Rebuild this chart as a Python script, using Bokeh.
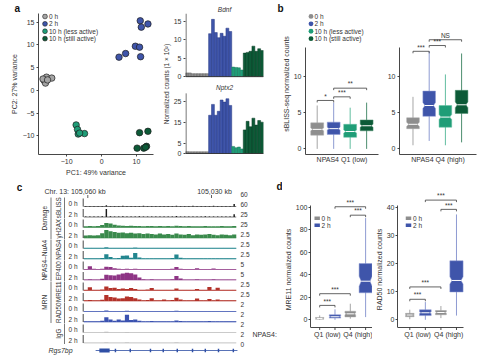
import math
from bokeh.plotting import figure
from bokeh.layouts import row, column
from bokeh.models import Range1d, FixedTicker, Label, Title
from bokeh.core.properties import value
from bokeh.embed import file_html
from bokeh.resources import INLINE

FONT = "Liberation Sans"
INK = "#333333"

# ======================= DATA =======================
group_labels = ["0 h", "2 h", "10 h (less active)", "10 h (still active)"]

# panel a: PCA
pca_0h_x = [-16.5, -15.8, -16.1, -14.3, -16.8, -15.5]
pca_0h_y = [2.2, 2.9, 1.6, 2.7, 2.5, 2.3]
pca_2h_x = [11.1, 13.3, 11.4, 9.7, 10.9, 11.2, 6.9, 5.0]
pca_2h_y = [15.3, 14.6, 13.9, 9.7, 9.5, 7.4, 8.1, 7.3]
pca_10l_x = [-7.3, -6.9, -6.7, -4.9, -6.3]
pca_10l_y = [-7.6, -8.6, -9.6, -9.5, -9.4]
pca_10s_x = [10.9, 13.3, 10.2, 12.1, 12.9, 12.6]
pca_10s_y = [-9.3, -9.0, -12.7, -12.7, -12.3, -12.5]
pca_x_ticks = [-10, 0, 10]
pca_y_ticks = [-10, -5, 0, 5, 10, 15]

# panel a: gene expression bars (normalized counts, x 10^2)
bdnf_0h = [1.0, 1.0, 0.8, 0.8, 0.8, 0.8, 0.8, 0.8]
bdnf_2h = [11.7, 15.6, 12.0, 10.6, 11.8, 11.0, 13.2, 12.3]
bdnf_10l = [2.6, 2.5, 2.4, 1.8]
bdnf_10s = [6.4, 6.6, 6.9, 8.3, 6.9, 7.6, 7.1]
nptx2_0h = [0.9, 0.8, 0.8, 0.8, 0.8, 0.8, 0.8, 0.8]
nptx2_2h = [18.3, 23.5, 18.3, 20.2, 25.6, 24.6, 26.2, 23.0]
nptx2_10l = [3.4, 2.8, 3.1, 2.2]
nptx2_10s = [11.3, 15.4, 12.8, 16.9, 13.6, 15.8, 15.0]
bdnf_ticks = [0, 5, 10, 15]
nptx2_ticks = [0, 5, 15, 25]

# panel b: sBLISS box stats (0h, 2h, 10h less, 10h still)
box_pos = [1, 2, 3, 4]
b1_lo = [0.0, 0.0, 0.0, 0.0]
b1_q1 = [1.9, 2.0, 1.6, 2.5]
b1_med = [2.7, 2.8, 2.4, 3.2]
b1_q3 = [3.6, 3.7, 3.4, 4.0]
b1_hi = [6.0, 6.4, 5.7, 6.4]
b1_notch = [0.2, 0.2, 0.2, 0.2]
b2_lo = [0.5, 1.1, 0.5, 0.9]
b2_q1 = [2.8, 4.5, 3.0, 4.9]
b2_med = [3.4, 6.0, 4.4, 6.1]
b2_q3 = [4.3, 8.0, 6.0, 8.1]
b2_hi = [7.2, 13.5, 10.3, 13.2]
b2_notch = [0.3, 0.4, 0.35, 0.4]
b_ticks = [0, 5, 10]
b1_brk_from = [1, 2, 2]
b1_brk_to = [2, 3, 4]
b1_brk_y = [6.7, 7.2, 8.4]
b1_brk_txt = ["*", "***", "**"]
b2_brk_from = [1, 2, 2]
b2_brk_to = [2, 3, 4]
b2_brk_y = [13.5, 14.3, 15.1]
b2_brk_txt = ["***", "***", "NS"]

# panel d: MRE11 / RAD50 box stats (0h Q1, 2h Q1, 0h Q4, 2h Q4)
d_group = [0, 1, 0, 1]
d_box_w = [0.55, 0.75, 0.7, 0.85]
d1_lo = [0.0, 0.0, 1.0, 2.4]
d1_q1 = [0.6, 1.5, 2.6, 24.0]
d1_med = [1.2, 2.7, 5.3, 34.3]
d1_q3 = [2.1, 4.5, 7.6, 50.0]
d1_hi = [3.9, 9.3, 14.3, 90.4]
d1_notch = [0.3, 0.5, 0.8, 4.5]
d2_lo = [0.2, 0.0, 0.6, 1.5]
d2_q1 = [1.1, 1.5, 1.8, 9.9]
d2_med = [1.7, 2.5, 2.6, 14.0]
d2_q3 = [2.3, 3.6, 3.3, 21.0]
d2_hi = [3.6, 6.3, 4.9, 37.5]
d2_notch = [0.15, 0.3, 0.25, 1.3]
d1_ticks = [0, 20, 40, 60, 80, 100]
d2_ticks = [0, 10, 20, 30, 40]
d1_brk_from = [1, 1, 3, 2]
d1_brk_to = [2, 3, 4, 4]
d1_brk_y = [12.8, 23.2, 93.0, 100.5]
d2_brk_from = [1, 1, 3, 2]
d2_brk_to = [2, 3, 4, 4]
d2_brk_y = [7.3, 11.7, 39.3, 42.6]
d_brk_txt = ["***", "***", "***", "***"]
d_legend = ["0 h", "2 h"]
d_quartile_pos = [1.5, 3.5]
d_quartiles = ["Q1 (low)", "Q4 (high)"]

# panel c: genome tracks, 1-kb bins starting at 105,061 kb (going right = decreasing)
bin_start_kb = 105061.0
bin_kb = 1.0
sbliss_0h = [0.05, 0.05, 0.05, 0.05, 0.05, 0.15, 0.05, 0.05, 0.05, 0.10,
             0.05, 0.05, 0.05, 0.05, 0.10, 0.05, 0.05, 0.05, 0.05, 0.05,
             0.05, 0.05, 0.10, 0.05, 0.05, 0.05, 0.10, 0.05, 0.05, 0.05,
             0.05, 0.10, 0.05, 0.05, 0.05, 0.05, 0.30]
sbliss_2h = [0.05, 0.05, 0.05, 0.05, 0.08, 1.00, 0.08, 0.05, 0.05, 0.10,
             0.05, 0.05, 0.05, 0.10, 0.05, 0.05, 0.05, 0.05, 0.05, 0.05,
             0.05, 0.05, 0.12, 0.05, 0.05, 0.05, 0.05, 0.05, 0.05, 0.10,
             0.05, 0.05, 0.05, 0.05, 0.05, 0.05, 0.35]
gh2ax_0h = [0.15, 0.18, 0.15, 0.20, 0.30, 0.55, 0.50, 0.35, 0.25, 0.22,
            0.20, 0.22, 0.18, 0.20, 0.15, 0.18, 0.20, 0.15, 0.18, 0.15,
            0.18, 0.15, 0.22, 0.18, 0.15, 0.18, 0.15, 0.17, 0.15, 0.18,
            0.15, 0.17, 0.15, 0.18, 0.15, 0.15, 0.20]
gh2ax_2h = [0.30, 0.35, 0.30, 0.35, 0.60, 1.00, 0.85, 0.75, 0.65, 0.70,
            0.60, 0.65, 0.55, 0.60, 0.50, 0.55, 0.50, 0.45, 0.55, 0.45,
            0.50, 0.40, 0.55, 0.45, 0.40, 0.50, 0.35, 0.45, 0.40, 0.45,
            0.50, 0.40, 0.35, 0.45, 0.40, 0.35, 0.45]
npas4_0h = [0.08, 0.08, 0.08, 0.08, 0.08, 0.15, 0.08, 0.08, 0.08, 0.08,
            0.08, 0.08, 0.12, 0.08, 0.08, 0.08, 0.08, 0.08, 0.08, 0.08,
            0.08, 0.08, 0.10, 0.08, 0.08, 0.08, 0.08, 0.08, 0.08, 0.08,
            0.08, 0.08, 0.08, 0.08, 0.08, 0.08, 0.08]
npas4_2h = [0.08, 0.08, 0.08, 0.08, 0.12, 0.60, 0.25, 0.10, 0.12, 0.40,
            0.45, 0.15, 0.75, 0.20, 0.10, 0.08, 0.10, 0.08, 0.08, 0.08,
            0.08, 0.12, 0.55, 0.15, 0.08, 0.08, 0.08, 0.10, 0.08, 0.08,
            0.10, 0.08, 0.08, 0.08, 0.08, 0.08, 0.08]
ep400_0h = [0.06, 0.40, 0.10, 0.06, 0.08, 0.35, 0.30, 0.15, 0.08, 0.06,
            0.08, 0.06, 0.10, 0.06, 0.06, 0.06, 0.06, 0.06, 0.06, 0.06,
            0.06, 0.08, 0.30, 0.08, 0.06, 0.06, 0.06, 0.15, 0.06, 0.06,
            0.06, 0.12, 0.06, 0.06, 0.06, 0.06, 0.06]
ep400_2h = [0.06, 0.08, 0.06, 0.06, 0.15, 0.65, 0.60, 0.55, 0.70, 0.80,
            0.90, 0.85, 0.70, 0.30, 0.10, 0.06, 0.08, 0.06, 0.06, 0.06,
            0.06, 0.10, 0.50, 0.20, 0.06, 0.06, 0.06, 0.08, 0.06, 0.06,
            0.06, 0.08, 0.06, 0.06, 0.06, 0.06, 0.06]
mre11_0h = [0.08, 0.40, 0.10, 0.08, 0.12, 0.50, 0.30, 0.35, 0.20, 0.25,
            0.20, 0.30, 0.20, 0.10, 0.08, 0.12, 0.30, 0.08, 0.10, 0.08,
            0.08, 0.10, 0.25, 0.08, 0.08, 0.10, 0.08, 0.20, 0.08, 0.08,
            0.45, 0.10, 0.35, 0.08, 0.08, 0.10, 0.08]
mre11_2h = [0.08, 0.12, 0.08, 0.08, 0.15, 0.75, 0.50, 0.45, 0.30, 0.35,
            0.55, 0.50, 0.35, 0.20, 0.10, 0.12, 0.35, 0.08, 0.10, 0.20,
            0.08, 0.12, 0.40, 0.20, 0.08, 0.10, 0.08, 0.30, 0.08, 0.10,
            0.25, 0.08, 0.20, 0.08, 0.08, 0.10, 0.08]
rad50_0h = [0.07, 0.07, 0.07, 0.07, 0.07, 0.12, 0.07, 0.07, 0.07, 0.07,
            0.09, 0.07, 0.07, 0.07, 0.07, 0.07, 0.07, 0.07, 0.07, 0.07,
            0.07, 0.07, 0.08, 0.07, 0.07, 0.07, 0.07, 0.07, 0.07, 0.07,
            0.07, 0.07, 0.07, 0.07, 0.07, 0.07, 0.07]
rad50_2h = [0.10, 0.10, 0.10, 0.10, 0.15, 0.60, 0.30, 0.15, 0.30, 0.20,
            0.90, 0.25, 0.30, 0.15, 0.10, 0.10, 0.12, 0.10, 0.10, 0.10,
            0.10, 0.10, 0.20, 0.12, 0.10, 0.10, 0.10, 0.10, 0.10, 0.10,
            0.12, 0.10, 0.10, 0.10, 0.10, 0.10, 0.10]
igg_0h = [0.03, 0.03, 0.03, 0.03, 0.03, 0.08, 0.03, 0.03, 0.03, 0.03,
          0.06, 0.03, 0.03, 0.03, 0.03, 0.03, 0.03, 0.03, 0.03, 0.03,
          0.03, 0.03, 0.04, 0.03, 0.03, 0.03, 0.03, 0.03, 0.03, 0.03,
          0.03, 0.03, 0.03, 0.03, 0.03, 0.03, 0.03]
igg_2h = [0.03, 0.03, 0.03, 0.03, 0.03, 0.07, 0.03, 0.03, 0.03, 0.03,
          0.06, 0.03, 0.03, 0.03, 0.03, 0.03, 0.03, 0.03, 0.03, 0.03,
          0.03, 0.03, 0.05, 0.03, 0.03, 0.03, 0.03, 0.03, 0.03, 0.03,
          0.03, 0.03, 0.03, 0.03, 0.03, 0.03, 0.03]
track_time = ["0 h", "2 h"] * 7
track_scale_labels = ["60", "60", "25", "25", "2.5", "2.5", "2.5", "5", "5",
                      "2.5", "2.5", "2", "2", "2", "2", "0"]
antibody_labels = ["sBLISS", "γH2AX", "NPAS4", "EP400", "MRE11", "RAD50", "IgG"]
group_names = ["Damage", "NPAS4–NuA4", "MRN"]
group_rows = [(0, 3), (4, 7), (8, 11)]
coord_ticks_kb = [105060, 105030]
gene_name = "Rgs7bp"
gene_span_kb = (105058.1, 105023.7)
gene_utr_kb = (105057.2, 105054.7)
gene_exons_kb = [105053.3, 105049.7, 105044.8, 105041.7, 105038.3,
                 105034.6, 105031.5, 105028.3, 105024.7]

# ======================= STYLE =======================
GRP_FILL = ["#8e8e8e", "#3f55aa", "#1f9d77", "#0c5a37"]
GRP_EDGE = ["#5e5e5e", "#243782", "#14765a", "#063a22"]
GRP_WHISK = ["#a6a6a6", "#8e9bd2", "#62bea0", "#4d8e6f"]
PCA_FILL = ["#a4a4a4", "#3f55aa", "#1f9d77", "#0c5a37"]
TRACK_COL = ["#1a1a1a", "#1a1a1a", "#3a8a4c", "#3a8a4c", "#23868f", "#23868f",
             "#8e3585", "#8e3585", "#b3322a", "#b3322a", "#3b52b0", "#3b52b0",
             "#b4b4b4", "#b4b4b4"]
TRACK_BAR_W = [0.35, 0.35] + [1.02] * 12
GENE_COL = "#2f4fa5"


class Panel:
    def __init__(self, ox, oy, w, h, frame, xr, yr, xaxis=True, yaxis=True):
        self.fx0, self.fy0, self.fx1, self.fy1 = frame
        self.x0, self.x1 = xr
        self.y0, self.y1 = yr
        kw = dict(width=w, height=h, x_range=Range1d(*xr), y_range=Range1d(*yr),
                  output_backend="svg", toolbar_location=None,
                  min_border_left=int(round(self.fx0 - ox)),
                  min_border_right=int(round(ox + w - self.fx1)),
                  min_border_top=int(round(self.fy0 - oy)),
                  min_border_bottom=int(round(oy + h - self.fy1)),
                  background_fill_color="white", border_fill_color="white",
                  outline_line_color=None)
        if not xaxis:
            kw["x_axis_location"] = None
        if not yaxis:
            kw["y_axis_location"] = None
        self.p = figure(**kw)
        for g in self.p.grid:
            g.visible = False
        for ax in self.p.axis:
            ax.axis_line_color = INK
            ax.axis_line_width = 0.9
            ax.major_tick_line_color = INK
            ax.major_tick_line_width = 0.9
            ax.major_tick_out = 2
            ax.major_tick_in = 0
            ax.minor_tick_line_color = None
            ax.major_label_text_font = FONT
            ax.major_label_text_font_size = "7px"
            ax.major_label_text_color = INK
            ax.major_label_standoff = 2
            ax.axis_label_text_font = FONT
            ax.axis_label_text_font_size = "7px"
            ax.axis_label_text_font_style = "normal"
            ax.axis_label_text_color = INK
            ax.axis_label_standoff = 2

    def dx(self, px):
        return self.x0 + (px - self.fx0) / (self.fx1 - self.fx0) * (self.x1 - self.x0)

    def dy(self, py):
        return self.y1 + (py - self.fy0) / (self.fy1 - self.fy0) * (self.y0 - self.y1)

    def ux(self, npx):
        return npx / (self.fx1 - self.fx0) * abs(self.x1 - self.x0)

    def uy(self, npx):
        return npx / (self.fy1 - self.fy0) * abs(self.y1 - self.y0)

    def top_title(self, text, offset, align="left", size="10px", style="bold",
                  color="#111111", standoff=0):
        t = self.p.title
        t.text = text
        t.align = align
        t.offset = offset
        t.standoff = standoff
        t.text_font = FONT
        t.text_font_size = size
        t.text_font_style = style
        t.text_color = color

    def side_title(self, text, offset, size="7px"):
        self.p.add_layout(Title(text=text, align="center", offset=offset, standoff=1,
                                text_font=FONT, text_font_size=size,
                                text_font_style="normal", text_color=INK), "left")


def lab(P, px, py, text, size="7px", align="left", baseline="middle", angle=0.0,
        style="normal", color=INK):
    P.p.add_layout(Label(x=P.dx(px), y=P.dy(py), text=text, text_font=FONT,
                         text_font_size=size, text_align=align, text_baseline=baseline,
                         angle=angle, text_font_style=style, text_color=color))


def draw_boxes(P, pos, lo, q1, med, q3, hi, notch, widths, fills, whisk, edges):
    p = P.p
    p.segment(x0=pos, y0=lo, x1=pos, y1=hi, line_color=whisk, line_width=1)
    xs_l, ys_l, m0, m1 = [], [], [], []
    for i, x in enumerate(pos):
        w = widths[i]
        l, r = x - w / 2, x + w / 2
        ind = w * 0.16
        lo_n = max(q1[i], med[i] - notch[i])
        hi_n = min(q3[i], med[i] + notch[i])
        xs_l.append([l, l, l + ind, l, l, r, r, r - ind, r, r])
        ys_l.append([q1[i], lo_n, med[i], hi_n, q3[i], q3[i], hi_n, med[i], lo_n, q1[i]])
        m0.append(l + ind)
        m1.append(r - ind)
    p.patches(xs_l, ys_l, fill_color=fills, line_color=edges, line_width=0.5)
    p.segment(x0=m0, y0=med, x1=m1, y1=med, line_color="white", line_width=1)


def draw_brackets(P, x1s, x2s, ys, texts, size="6px"):
    t = P.uy(2.0)
    xs = [[a, a, b, b] for a, b in zip(x1s, x2s)]
    yy = [[y - t, y, y, y - t] for y in ys]
    P.p.multi_line(xs, yy, line_color="#3c3c3c", line_width=0.8)
    P.p.text(x=[(a + b) / 2 for a, b in zip(x1s, x2s)], y=[y + P.uy(0.8) for y in ys],
             text=texts, text_font=value(FONT), text_font_size=value(size),
             text_align="center", text_baseline="bottom", text_color=INK)


# Top row: every frame spans y 12..155 (Bokeh aligns frames within a row)
TOP_F0, TOP_F1 = 12, 155

# ======================= PANEL a: PCA =======================
A = Panel(0, 0, 160, 178, (38, TOP_F0, 153, TOP_F1), (-18.1, 14.9), (-14.1, 16.9))
pa = A.p
pa.xaxis.ticker = FixedTicker(ticks=pca_x_ticks)
pa.yaxis.ticker = FixedTicker(ticks=pca_y_ticks)
pa.xaxis.major_label_overrides = {-10: "−10"}
pa.yaxis.major_label_overrides = {-10: "−10", -5: "−5"}
pa.xaxis.axis_label = "PC1: 49% variance"
pa.yaxis.axis_label = "PC2: 27% variance"
A.top_title("a", -24)
for (xs, ys), col in zip([(pca_0h_x, pca_0h_y), (pca_2h_x, pca_2h_y),
                          (pca_10l_x, pca_10l_y), (pca_10s_x, pca_10s_y)], PCA_FILL):
    pa.scatter(xs, ys, size=6.5, fill_color=col, line_color="#1c1c1c", line_width=0.7)
leg_y = [15, 22.5, 30, 37.5]
for i in range(4):
    pa.scatter([A.dx(44.5)], [A.dy(leg_y[i])], size=4.8, fill_color=PCA_FILL[i],
               line_color="#1c1c1c", line_width=0.6)
    lab(A, 48.5, leg_y[i], group_labels[i], size="6.5px")

# ======================= PANEL a: bars (one frame, two sub-charts) =======================
BD_ZERO, BD_PPU = 76.0, 64.0 / 17.2     # Bdnf baseline (px) / px per unit
NP_ZERO, NP_PPU = 154.0, 2.12           # Nptx2 baseline (px) / px per unit
n_bars = len(bdnf_0h) + len(bdnf_2h) + len(bdnf_10l) + len(bdnf_10s)
BR = Panel(160, 0, 112, 178, (183, TOP_F0, 263, TOP_F1), (-0.5, n_bars - 0.5),
           ((NP_ZERO - TOP_F1) / NP_PPU, (NP_ZERO - TOP_F0) / NP_PPU), xaxis=False)
pb = BR.p
pb.extra_y_ranges = {"bdnf": Range1d((BD_ZERO - TOP_F1) / BD_PPU,
                                     (BD_ZERO - TOP_F0) / BD_PPU)}


def draw_bars(sets, range_name):
    vals, fills, edges = [], [], []
    for g, s in enumerate(sets):
        vals += s
        fills += [GRP_FILL[g]] * len(s)
        edges += [GRP_EDGE[g]] * len(s)
    kw = {} if range_name is None else {"y_range_name": range_name}
    pb.vbar(x=list(range(len(vals))), top=vals, bottom=0, width=1.0,
            fill_color=fills, line_color=edges, line_width=0.5, **kw)


draw_bars([bdnf_0h, bdnf_2h, bdnf_10l, bdnf_10s], "bdnf")
draw_bars([nptx2_0h, nptx2_2h, nptx2_10l, nptx2_10s], None)


def bd_to_main(v):
    return round((NP_ZERO - (BD_ZERO - v * BD_PPU)) / NP_PPU, 6)


tick_pos = [float(t) for t in nptx2_ticks] + [bd_to_main(t) for t in bdnf_ticks]
tick_txt = [str(t) for t in nptx2_ticks] + [str(t) for t in bdnf_ticks]
pb.yaxis.ticker = FixedTicker(ticks=tick_pos)
pb.yaxis.major_label_overrides = dict(zip(tick_pos, tick_txt))
pb.yaxis.axis_line_color = None
BR.side_title("Normalized counts (1 × 10²)", -4.5, size="6.5px")
BR.top_title("Bdnf", 0, align="center", size="6.5px", style="italic", color=INK,
             standoff=1)
xl = BR.x0 + BR.ux(0.5)
pb.segment(x0=[xl, xl], y0=[0, bd_to_main(0)],
           x1=[xl, xl], y1=[BR.dy(93), BR.dy(12)], line_color=INK, line_width=0.9)
pb.segment(x0=[BR.x0, BR.x0], y0=[0, bd_to_main(0)], x1=[BR.x1, BR.x1],
           y1=[0, bd_to_main(0)], line_color=INK, line_width=0.9)
pb.text(x=[BR.dx(223)], y=[BR.dy(87)], text=["Nptx2"],
        text_font=value(FONT), text_font_size=value("6.5px"), text_font_style="italic",
        text_align="center", text_baseline="middle", text_color=INK)

# ======================= PANEL b =======================
B_ZERO, B_PPU = 149.3, 7.33
b_yr = ((B_ZERO - TOP_F1) / B_PPU, (B_ZERO - TOP_F0) / B_PPU)
B1 = Panel(272, 0, 110, 178, (305, TOP_F0, 378, TOP_F1), (0.29, 4.72), b_yr)
B2 = Panel(382, 0, 106, 178, (399, TOP_F0, 476, TOP_F1), (0.167, 4.92), b_yr)
for P, stats, brk, xlab in [
        (B1, (b1_lo, b1_q1, b1_med, b1_q3, b1_hi, b1_notch),
         (b1_brk_from, b1_brk_to, b1_brk_y, b1_brk_txt), "NPAS4 Q1 (low)"),
        (B2, (b2_lo, b2_q1, b2_med, b2_q3, b2_hi, b2_notch),
         (b2_brk_from, b2_brk_to, b2_brk_y, b2_brk_txt), "NPAS4 Q4 (high)")]:
    P.p.yaxis.ticker = FixedTicker(ticks=b_ticks)
    P.p.yaxis.bounds = (b_yr[0], 14)
    P.p.xaxis.ticker = FixedTicker(ticks=[])
    P.p.xaxis.axis_label = xlab
    P.p.xaxis.axis_label_standoff = 1
    draw_boxes(P, box_pos, *stats, [0.78] * 4, GRP_FILL, GRP_WHISK, GRP_WHISK)
    draw_brackets(P, *brk, size="6.5px")
B1.top_title("b", -28)
B1.side_title("sBLISS-seq normalized counts", -17.5)
for i in range(4):
    B1.p.scatter([B1.dx(310.5)], [B1.dy(leg_y[i])], size=4.8, fill_color=GRP_FILL[i],
                 line_color=None)
    lab(B1, 314, leg_y[i], group_labels[i], size="6.5px")

# Bottom row: every frame spans y 178..360
BOT_F0, BOT_F1 = 178, 360

# ======================= PANEL c =======================
KB_REF, PX_REF, PX_PER_KB = 105060.0, 87.3, 4.123


def kb_at(px):
    return KB_REF - (px - PX_REF) / PX_PER_KB


C = Panel(0, 178, 282, 182, (0, BOT_F0, 282, BOT_F1), (kb_at(0), kb_at(282)),
          (BOT_F1, BOT_F0), xaxis=False, yaxis=False)
pc = C.p
track_values = [sbliss_0h, sbliss_2h, gh2ax_0h, gh2ax_2h, npas4_0h, npas4_2h,
                ep400_0h, ep400_2h, mre11_0h, mre11_2h, rad50_0h, rad50_2h,
                igg_0h, igg_2h]
track_base = [206 + 10.5 * k for k in range(len(track_values))]
TRACK_H = 8.0
for k, vals in enumerate(track_values):
    base = track_base[k]
    col = TRACK_COL[k]
    xs = [bin_start_kb - bin_kb * (i + 0.5) for i in range(len(vals))]
    pc.vbar(x=xs, width=bin_kb * TRACK_BAR_W[k], bottom=base,
            top=[base - v * TRACK_H for v in vals], fill_color=col, line_color=None)
    pc.segment(x0=[bin_start_kb], y0=[base], x1=[bin_start_kb - bin_kb * len(vals)],
               y1=[base], line_color=col, line_width=0.6)
    pc.segment(x0=[C.dx(82.7)], y0=[base], x1=[C.dx(82.7)], y1=[base - TRACK_H],
               line_color=INK, line_width=0.9)
    lab(C, 68, base - 3, track_time[k], size="6.5px")
for a, name in enumerate(antibody_labels):
    r0, r1 = 2 * a, 2 * a + 1
    top, bot = track_base[r0] - TRACK_H - 1, track_base[r1] + 1
    pc.segment(x0=[C.dx(64)], y0=[top], x1=[C.dx(64)], y1=[bot], line_color="#555555",
               line_width=0.8)
    lab(C, 58, (top + bot) / 2, name, size="6.3px", align="center", angle=math.pi / 2)
for name, (r0, r1) in zip(group_names, group_rows):
    top, bot = track_base[r0] - TRACK_H - 1, track_base[r1] + 1
    pc.segment(x0=[C.dx(50.5)], y0=[top], x1=[C.dx(50.5)], y1=[bot], line_color="#555555",
               line_width=0.8)
    lab(C, 43.5, (top + bot) / 2, name, size="6.5px", align="center", angle=math.pi / 2)
for k, t in enumerate(track_scale_labels):
    lab(C, 240, 194 + 10 * k, t, size="6.5px")
pc.segment(x0=coord_ticks_kb, y0=[194.5] * 2, x1=coord_ticks_kb, y1=[197.5] * 2,
           line_color=INK, line_width=0.8)
lab(C, 44, 191, "Chr. 13: 105,060 kb", size="7px")
lab(C, 214, 191, "105,030 kb", size="7px", align="center")
lab(C, 19, 187, "c", size="10px", align="center", style="bold", color="#111111")
lab(C, 279, 186, "d", size="10px", align="center", style="bold", color="#111111")
lab(C, 252, 334, "NPAS4:", size="7px")
pc.segment(x0=[gene_span_kb[0]], y0=[350], x1=[gene_span_kb[1]], y1=[350],
           line_color=GENE_COL, line_width=0.8)
pc.quad(left=[gene_utr_kb[0]], right=[gene_utr_kb[1]], top=[348], bottom=[352],
        fill_color=GENE_COL, line_color=None)
pc.rect(x=gene_exons_kb, y=[350] * len(gene_exons_kb), width=0.35, height=3.5,
        fill_color=GENE_COL, line_color=None)
lab(C, 48, 350, gene_name, size="7px", style="italic")

# ======================= PANEL d =======================
D_ZERO, D_AXIS_Y = 319.3, 327.0
D1_PPU, D2_PPU = 1.125, 2.81
D1 = Panel(282, 178, 90, 182, (309, BOT_F0, 372, BOT_F1), (0.40, 4.45),
           ((D_ZERO - BOT_F1) / D1_PPU, (D_ZERO - BOT_F0) / D1_PPU), xaxis=False)
D2 = Panel(372, 178, 116, 182, (397, BOT_F0, 465, BOT_F1), (0.21, 4.58),
           ((D_ZERO - BOT_F1) / D2_PPU, (D_ZERO - BOT_F0) / D2_PPU), xaxis=False)
d_fill = [GRP_FILL[g] for g in d_group]
d_wh = [GRP_WHISK[g] for g in d_group]
for P, stats, brk_y, brk_from, brk_to, ticks, top_bound, ylab, legx, x_end in [
        (D1, (d1_lo, d1_q1, d1_med, d1_q3, d1_hi, d1_notch), d1_brk_y, d1_brk_from,
         d1_brk_to, d1_ticks, 101.5, "MRE11 normalized counts", 315.8, 372),
        (D2, (d2_lo, d2_q1, d2_med, d2_q3, d2_hi, d2_notch), d2_brk_y, d2_brk_from,
         d2_brk_to, d2_ticks, 40.5, "RAD50 normalized counts", 408, 463)]:
    y_ax = P.dy(D_AXIS_Y)
    P.p.yaxis.ticker = FixedTicker(ticks=ticks)
    P.p.yaxis.bounds = (y_ax, top_bound)
    P.p.yaxis.major_label_standoff = 1
    # category baseline with tick marks under each box
    P.p.segment(x0=[P.x0], y0=[y_ax], x1=[P.dx(x_end)], y1=[y_ax],
                line_color=INK, line_width=0.9)
    P.p.segment(x0=box_pos, y0=[y_ax] * 4, x1=box_pos, y1=[P.dy(D_AXIS_Y + 2.5)] * 4,
                line_color=INK, line_width=0.9)
    P.p.text(x=d_quartile_pos, y=[P.dy(D_AXIS_Y + 7)] * 2, text=d_quartiles,
             text_font=value(FONT), text_font_size=value("7px"), text_align="center",
             text_baseline="middle", text_color=INK)
    draw_boxes(P, box_pos, *stats, d_box_w, d_fill, d_wh, d_wh)
    draw_brackets(P, brk_from, brk_to, brk_y, d_brk_txt, size="6.5px")
    P.side_title(ylab, 6)
    for i, ly in enumerate([217.7, 224.7]):
        P.p.rect(x=[P.dx(legx)], y=[P.dy(ly)], width=P.ux(5.5), height=P.uy(3.6),
                 fill_color=GRP_FILL[i], line_color=None)
        lab(P, legx + 4.5, ly, d_legend[i], size="6.5px")

layout = column(
    row(A.p, BR.p, B1.p, B2.p, spacing=0),
    row(C.p, D1.p, D2.p, spacing=0),
    spacing=0)

open("out.html", "w").write(file_html(layout, INLINE, title="figure"))
